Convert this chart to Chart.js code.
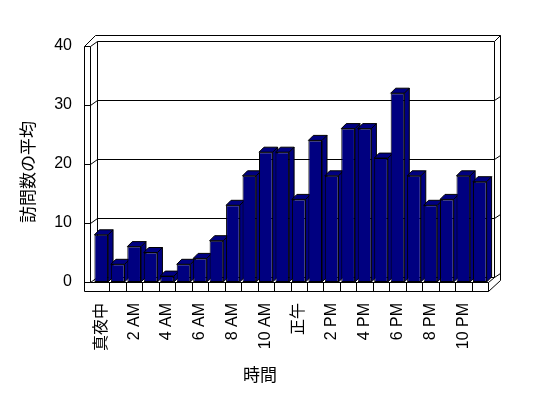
<!DOCTYPE html>
<html><head><meta charset="utf-8">
<script src="https://cdn.jsdelivr.net/npm/chart.js@4/dist/chart.umd.min.js"></script>
<style>html,body{margin:0;padding:0;background:#fff}</style>
</head><body>
<canvas id="c" width="548" height="398"></canvas>
<script>
const hourLabels = ["真夜中","1 AM","2 AM","3 AM","4 AM","5 AM","6 AM","7 AM","8 AM","9 AM","10 AM","11 AM",
  "正午","1 PM","2 PM","3 PM","4 PM","5 PM","6 PM","7 PM","8 PM","9 PM","10 PM","11 PM"];
const visitAverages = [8,3,6,5,1,3,4,7,13,18,22,22,14,24,18,26,26,21,32,18,13,14,18,17];
const yTickValues = [0,10,20,30,40];
const xTitle = "時間";
const yTitle = "訪問数の平均";

const NAVY = "#000080";
const latin = "'Liberation Sans', 'Noto Sans CJK JP', sans-serif";
const cjk = "'Noto Sans CJK JP', sans-serif";

function poly(ctx, pts, fill) {
  ctx.beginPath();
  pts.forEach((p, i) => i ? ctx.lineTo(p[0], p[1]) : ctx.moveTo(p[0], p[1]));
  ctx.closePath();
  if (fill) { ctx.fillStyle = fill; ctx.fill(); }
  ctx.stroke();
}
function line(ctx, pts) {
  ctx.beginPath();
  pts.forEach((p, i) => i ? ctx.lineTo(p[0] + .5, p[1] + .5) : ctx.moveTo(p[0] + .5, p[1] + .5));
  ctx.stroke();
}

const frame3d = {
  id: 'frame3d',
  beforeDatasetsDraw(chart) {
    const ctx = chart.ctx, ca = chart.chartArea, ys = chart.scales.y, xs = chart.scales.x;
    const L = Math.round(ca.left), R = Math.round(ca.right);
    const B = Math.round(ys.getPixelForValue(0)), T = Math.round(ys.getPixelForValue(40));
    const xo = L - 9, xi = L - 3, xb = L + 4, xr = R + 6, xro = R + 12, wdy = -5;
    ctx.save();
    ctx.strokeStyle = '#000'; ctx.lineWidth = 1;
    // gridlines across left wall and back wall
    yTickValues.forEach(v => {
      const yf = Math.round(ys.getPixelForValue(v)), yb = yf + wdy;
      line(ctx, [[xo, yf], [xi, yf], [xb, yb], [xr, yb]]);
      if (v < 40) line(ctx, [[xr, yb], [xro, yb - 4]]);
    });
    // outer outline
    line(ctx, [[xo, B + 9], [xo, T], [xo + 11, T - 11], [xro, T - 11], [xro, B - 2], [R, B + 9], [xo, B + 9]]);
    line(ctx, [[xr, T + wdy], [xro, T - 11]]);
    line(ctx, [[xi, T], [xi, B]]);
    line(ctx, [[xb, T + wdy], [xb, B + wdy]]);
    line(ctx, [[xr, T + wdy], [xr, B + wdy], [R, B]]);
    line(ctx, [[xi, B], [R, B], [R, B + 9]]);
    // floor tick marks at category boundaries
    const n = hourLabels.length;
    const cw = (xs.getPixelForValue(n - 1) - xs.getPixelForValue(0)) / (n - 1);
    for (let i = 1; i < n; i++) {
      const bx = Math.round(xs.getPixelForValue(i) - cw / 2);
      line(ctx, [[bx, B], [bx, B + 9]]);
    }
    // bar side and top faces
    const meta = chart.getDatasetMeta(0);
    const dx = 5, dy = -5;
    meta.data.forEach(bar => {
      const p = bar.getProps(['x', 'y', 'base', 'width'], true);
      const l = p.x - p.width / 2, r = p.x + p.width / 2, t = p.y, b = p.base;
      poly(ctx, [[r, b], [r, t], [r + dx, t + dy], [r + dx, b + dy]], NAVY);
      poly(ctx, [[l, t], [l + dx, t + dy], [r + dx, t + dy], [r, t]], NAVY);
    });
    ctx.restore();
  },
  afterDraw(chart) {
    const ctx = chart.ctx;
    ctx.save();
    ctx.fillStyle = '#000';
    ctx.font = "17px " + cjk;
    ctx.textAlign = 'center'; ctx.textBaseline = 'middle';
    ctx.fillText(xTitle, 260, 375);
    ctx.translate(27.5, 172);
    ctx.rotate(-Math.PI / 2);
    ctx.fillText(yTitle, 0, 0);
    ctx.restore();
  }
};

new Chart(document.getElementById('c'), {
  type: 'bar',
  data: {
    labels: hourLabels,
    datasets: [{
      data: visitAverages,
      backgroundColor: NAVY,
      borderColor: '#000',
      borderWidth: 1,
      borderSkipped: false,
      barPercentage: 0.83,
      categoryPercentage: 1.0
    }]
  },
  options: {
    responsive: false,
    devicePixelRatio: 1,
    animation: false,
    events: [],
    layout: { padding: { top: 46, right: 60, bottom: 0, left: 0 } },
    plugins: { legend: { display: false }, tooltip: { enabled: false }, title: { display: false } },
    scales: {
      x: {
        grid: { display: false, drawTicks: false },
        border: { display: false },
        ticks: {
          autoSkip: false, minRotation: 90, maxRotation: 90, padding: 21, color: '#000',
          font: { family: latin, size: 16 },
          callback: (v, i) => (i % 2 === 0 ? hourLabels[i] : '')
        },
        afterFit(s) { s.height = 116; }
      },
      y: {
        min: 0, max: 40,
        grid: { display: false, drawTicks: false },
        border: { display: false },
        ticks: { stepSize: 10, padding: 21, color: '#000', font: { family: latin, size: 16 } },
        afterFit(s) { s.width = 93; }
      }
    }
  },
  plugins: [frame3d]
});
</script>
</body></html>
